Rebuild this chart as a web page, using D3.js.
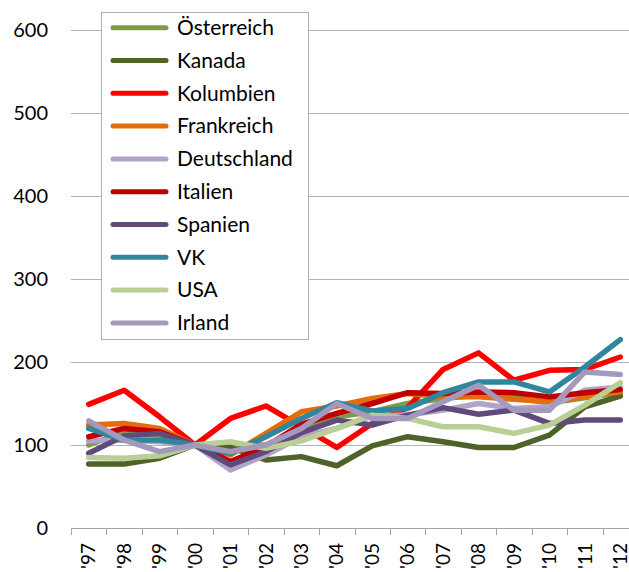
<!DOCTYPE html>
<html>
<head>
<meta charset="utf-8">
<script src="https://cdn.jsdelivr.net/npm/d3@7"></script>
<style>
  body { margin: 0; background: #fff; }
  text { font-family: Lato, "Open Sans", sans-serif; fill: #000; }
</style>
</head>
<body>
<div class="chart"></div>
<script>
var years = ["'97", "'98", "'99", "'00", "'01", "'02", "'03", "'04", "'05", "'06", "'07", "'08", "'09", "'10", "'11", "'12"];
var yTicks = [0, 100, 200, 300, 400, 500, 600];

var countries = ["Österreich", "Kanada", "Kolumbien", "Frankreich", "Deutschland", "Italien", "Spanien", "VK", "USA", "Irland"];
var colors = ["#7f9a48", "#4f6228", "#ff0000", "#e46c0a", "#b3a2c7", "#c00000", "#604a7b", "#31859c", "#b9cf96", "#a598bd"];

var oesterreich = [100, 116, 112, 100, 100, 100, 120, 134, 140, 150, 156, 160, 157, 151, 157, 163];
var kanada      = [77, 77, 84, 100, 97, 82, 86, 75, 99, 110, 104, 97, 97, 112, 146, 159];
var kolumbien   = [149, 166, 134, 100, 132, 147, 122, 97, 126, 145, 191, 211, 178, 190, 191, 206];
var frankreich  = [124, 126, 120, 100, 88, 114, 140, 147, 156, 162, 158, 158, 155, 152, 158, 164];
var deutschland = [105, 106, 104, 100, 70, 88, 110, 120, 135, 136, 142, 150, 144, 146, 166, 170];
var italien     = [110, 120, 116, 100, 80, 98, 125, 138, 150, 163, 162, 164, 163, 158, 163, 167];
var spanien     = [90, 111, 114, 100, 76, 92, 115, 130, 124, 136, 145, 137, 142, 126, 130, 130];
var vk          = [120, 106, 106, 100, 90, 110, 132, 151, 141, 144, 163, 176, 176, 164, 194, 227];
var usa         = [85, 84, 87, 100, 104, 96, 105, 120, 136, 132, 122, 122, 114, 124, 148, 175];
var irland      = [129, 106, 92, 100, 92, 100, 120, 150, 132, 132, 152, 172, 142, 142, 188, 185];

var seriesValues = [oesterreich, kanada, kolumbien, frankreich, deutschland, italien, spanien, vk, usa, irland];

var svgWidth = 629;
var svgHeight = 572;

var svg = d3.select(".chart")
  .append("svg")
    .attr("width", svgWidth)
    .attr("height", svgHeight);

// scales
var xScale = d3.scaleBand()
  .domain(years)
  .range([71, 638])
  .padding(0);

var yScale = d3.scaleLinear()
  .domain([0, 600])
  .range([528, 30]);

var half = xScale.bandwidth() / 2;

// gridlines
svg.append("g")
  .selectAll("line")
  .data(yTicks.filter(function(d) { return d > 0; }))
  .enter().append("line")
    .attr("x1", 71)
    .attr("x2", svgWidth)
    .attr("y1", function(d) { return Math.round(yScale(d)) + 0.5; })
    .attr("y2", function(d) { return Math.round(yScale(d)) + 0.5; })
    .attr("stroke", "#b3b3b3")
    .attr("stroke-width", 1);

// y axis labels
var leftAxis = d3.axisLeft(yScale).tickValues(yTicks).tickSize(0).tickPadding(0);
var yAxisG = svg.append("g")
  .attr("transform", "translate(48,0)")
  .call(leftAxis);
yAxisG.select(".domain").remove();
yAxisG.selectAll("text")
  .style("font-family", "Lato, sans-serif")
  .style("font-size", "20px")
  .attr("fill", "#000");

// x axis
var bottomAxis = d3.axisBottom(xScale).tickSize(0);
var xAxisG = svg.append("g")
  .attr("transform", "translate(0," + yScale(0) + ")")
  .call(bottomAxis);
xAxisG.select(".domain").remove();
xAxisG.selectAll("text")
  .style("font-family", "Lato, sans-serif")
  .style("font-size", "19px")
  .attr("fill", "#000")
  .attr("transform", "rotate(-90)")
  .attr("text-anchor", "end")
  .attr("x", -15)
  .attr("y", 0)
  .attr("dy", "0.35em");

svg.append("line")
  .attr("x1", 71)
  .attr("x2", 638)
  .attr("y1", yScale(0) + 0.5)
  .attr("y2", yScale(0) + 0.5)
  .attr("stroke", "#a6a6a6");

svg.append("g")
  .selectAll("line")
  .data(years.concat(["end"]))
  .enter().append("line")
    .attr("x1", function(d) { return d === "end" ? 638.5 : Math.round(xScale(d)) + 0.5; })
    .attr("x2", function(d) { return d === "end" ? 638.5 : Math.round(xScale(d)) + 0.5; })
    .attr("y1", yScale(0))
    .attr("y2", yScale(0) + 7)
    .attr("stroke", "#a6a6a6");

// lines
var line = d3.line()
  .x(function(d, i) { return xScale(years[i]) + half; })
  .y(function(d) { return yScale(d); });

svg.append("g")
  .selectAll("path")
  .data(seriesValues)
  .enter().append("path")
    .attr("d", line)
    .attr("fill", "none")
    .attr("stroke", function(d, i) { return colors[i]; })
    .attr("stroke-width", 5.5)
    .attr("stroke-linejoin", "round")
    .attr("stroke-linecap", "round");

// legend
var legend = svg.append("g");
legend.append("rect")
  .attr("x", 101.5)
  .attr("y", 12.5)
  .attr("width", 207)
  .attr("height", 327)
  .attr("fill", "#fff")
  .attr("stroke", "#b0b0b0");

var item = legend.selectAll(".item")
  .data(countries)
  .enter().append("g")
    .attr("class", "item")
    .attr("transform", function(d, i) { return "translate(0," + (27.7 + i * 32.8) + ")"; });

item.append("line")
  .attr("x1", 113)
  .attr("x2", 166)
  .attr("stroke", function(d, i) { return colors[i]; })
  .attr("stroke-width", 5)
  .attr("stroke-linecap", "round");

item.append("text")
  .attr("x", 177)
  .attr("dy", "0.35em")
  .style("font-size", "21px")
  .text(function(d) { return d; });
</script>
</body>
</html>
